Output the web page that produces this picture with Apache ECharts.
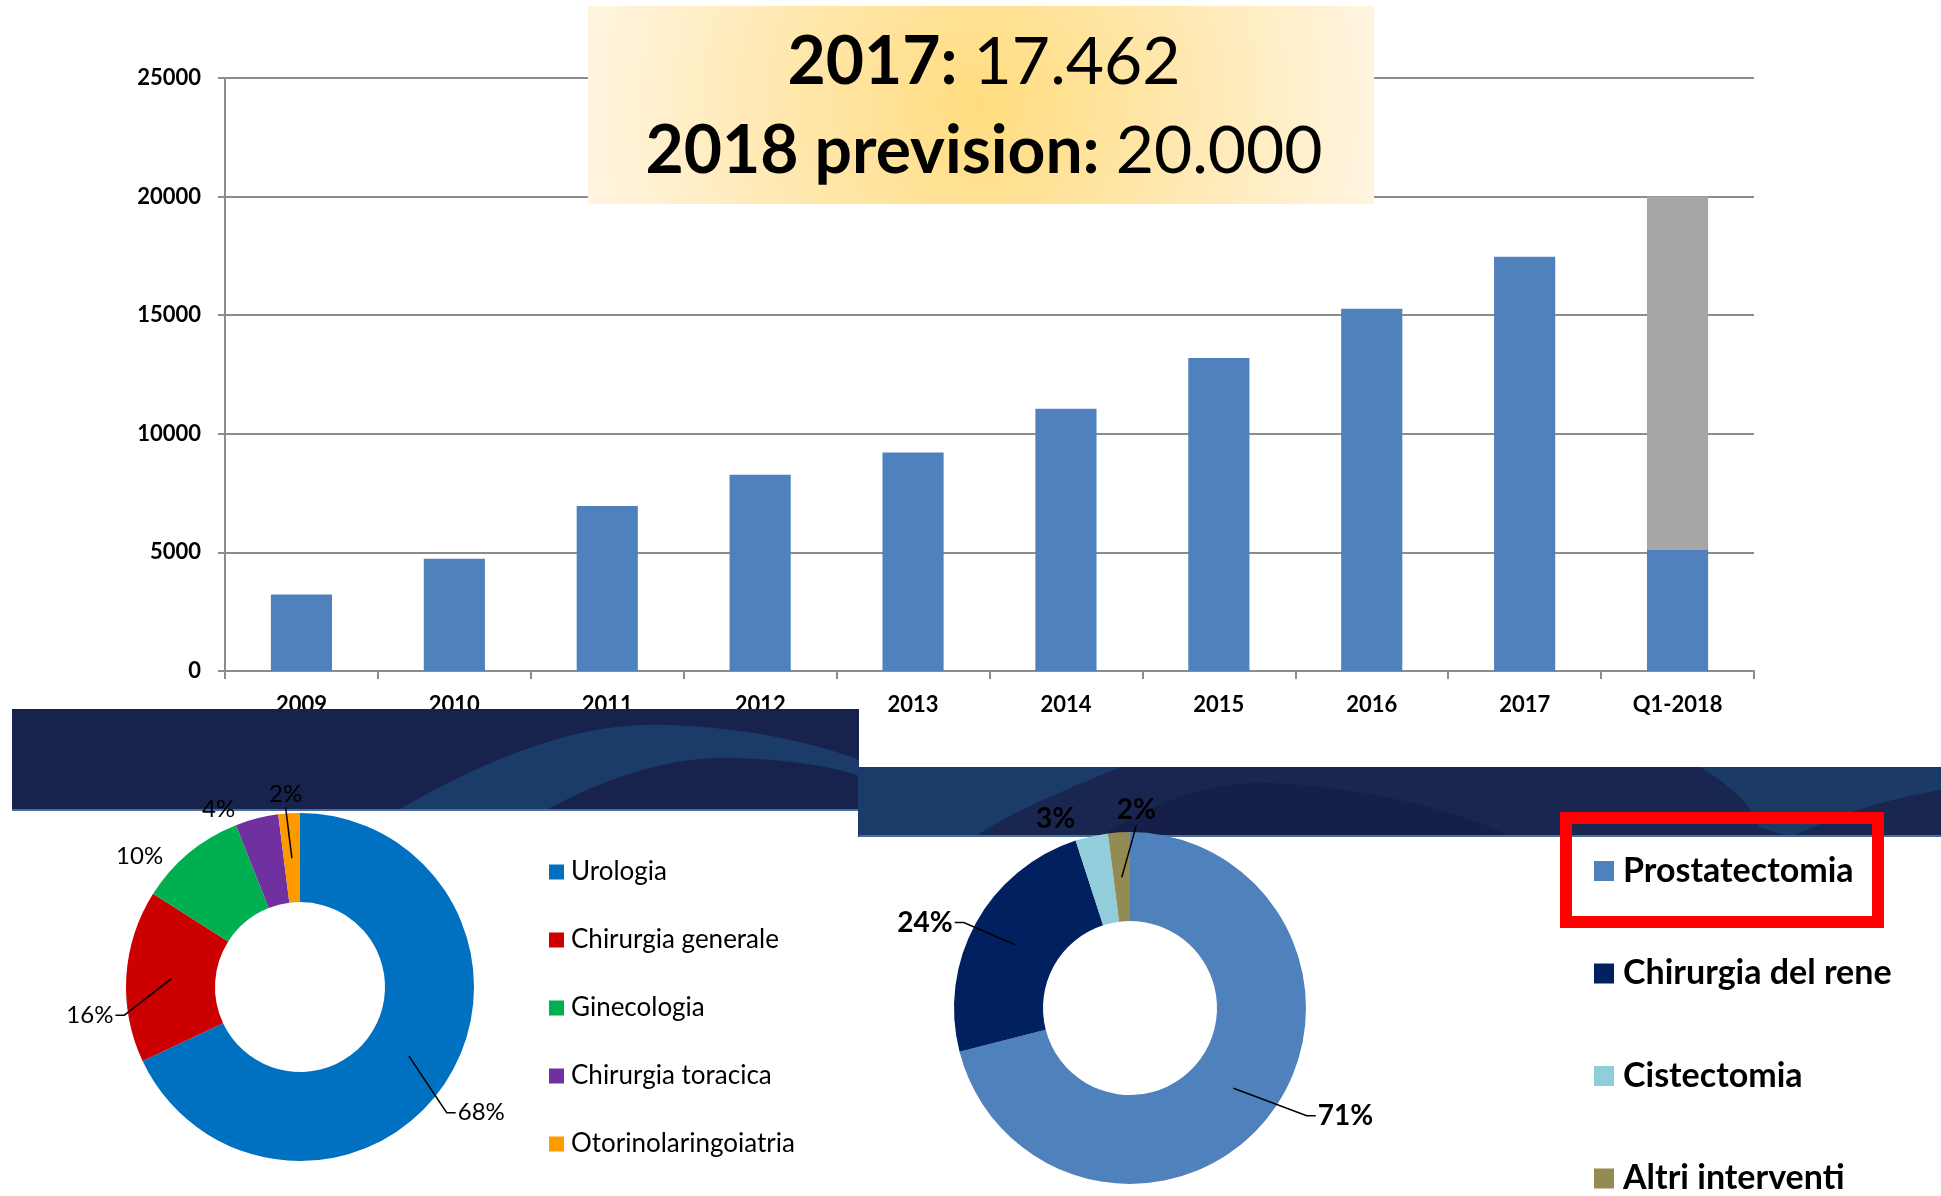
<!DOCTYPE html>
<html>
<head>
<meta charset="utf-8">
<title>Interventi robotici</title>
<script src="https://cdn.jsdelivr.net/npm/echarts@6/dist/echarts.min.js"></script>
<style>
  html, body { margin: 0; padding: 0; background: #ffffff; }
  #chart { width: 1941px; height: 1196px; }
</style>
</head>
<body>
<div id="chart"></div>
<script>
// Yearly procedures
const categories = ['2009', '2010', '2011', '2012', '2013', '2014', '2015', '2016', '2017', 'Q1-2018'];
const casesPerYear = [3220, 4730, 6960, 8270, 9215, 11055, 13200, 15270, 17462, 5100];
const forecastRemainder = [null, null, null, null, null, null, null, null, null, 14900];
const yTicks = { min: 0, max: 25000, interval: 5000 };

// Share by specialty
const specialtyNames = ['Urologia', 'Chirurgia generale', 'Ginecologia', 'Chirurgia toracica', 'Otorinolaringoiatria'];
const specialtyShares = [68, 16, 10, 4, 2];

// Share by urological procedure
const procedureNames = ['Prostatectomia', 'Chirurgia del rene', 'Cistectomia', 'Altri interventi'];
const procedureShares = [71, 24, 3, 2];

const specialtyColors = ['#0070C0', '#CC0000', '#00B050', '#7030A0', '#FF9900'];
const procedureColors = ['#4F81BD', '#002060', '#92CDDC', '#948A54'];
const FONT = 'Lato, "Open Sans", "Noto Sans", sans-serif';

// small shifts applied to the outside pie labels, [dx, dy] per slice
const specialtyLabelShift = [[-14, 25], [14, 40], [-4, 14], [-5, 4], [27, -5]];
const procedureLabelShift = [[21, -10], [6, 7], [2, -2], [53, -6]];
// slices whose label carries no leader line
const specialtyNoLeader = [false, false, true, true, false];
const procedureNoLeader = [false, false, true, false];

// Italian thousands separator: 17462 -> "17.462"
function itNumber(v) {
  return String(v).replace(/\B(?=(\d{3})+(?!\d))/g, '.');
}

const last = categories.length - 1;
const value2017 = casesPerYear[categories.indexOf('2017')];
const forecast2018 = casesPerYear[last] + forecastRemainder[last];

// points along a cubic bezier, used for the banner swooshes
function cubic(p0, p1, p2, p3, n) {
  const pts = [];
  for (let i = 0; i <= n; i++) {
    const t = i / n, u = 1 - t;
    pts.push([
      u * u * u * p0[0] + 3 * u * u * t * p1[0] + 3 * u * t * t * p2[0] + t * t * t * p3[0],
      u * u * u * p0[1] + 3 * u * u * t * p1[1] + 3 * u * t * t * p2[1] + t * t * t * p3[1]
    ]);
  }
  return pts;
}

const outerSwoosh = cubic([396, 811], [520, 740], [600, 722], [668, 725], 20)
  .concat(cubic([668, 725], [760, 728], [830, 748], [859, 760], 12));
const innerSwoosh = cubic([544, 811], [620, 770], [680, 757], [730, 758], 16)
  .concat(cubic([730, 758], [790, 759], [840, 768], [859, 776], 8));
const leftSwoosh = outerSwoosh.concat(innerSwoosh.slice().reverse());

const rightGlow = [[858, 767], [1121, 767]]
  .concat(cubic([1121, 767], [1065, 790], [1010, 812], [975, 837], 14))
  .concat([[858, 837]]);
const rightMound = cubic([1100, 837], [1170, 790], [1230, 782], [1267, 783], 14)
  .concat(cubic([1267, 783], [1340, 785], [1450, 805], [1511, 837], 14));
const rightFar = [[1700, 767], [1941, 767], [1941, 790]]
  .concat(cubic([1941, 790], [1880, 800], [1840, 815], [1790, 837], 10))
  .concat(cubic([1760, 837], [1760, 810], [1730, 785], [1700, 767], 8).slice(1));

// Shift each pie label a little and run its leader from inside the ring
// to the side of the label, with a short horizontal tail.
function leaderLayout(shifts) {
  return function (p) {
    const s = shifts[p.dataIndex] || [0, 0];
    const out = { dx: s[0], dy: s[1], hideOverlap: false };
    const pts = p.labelLinePoints;
    if (pts && pts.length >= 2) {
      const r = p.labelRect;
      const x = r.x + s[0], y = r.y + s[1], w = r.width, h = r.height;
      const vx = pts[1][0] - pts[0][0], vy = pts[1][1] - pts[0][1];
      const len = Math.hypot(vx, vy) || 1;
      const ux = vx / len, uy = vy / len;
      const start = [pts[0][0] - ux * 45, pts[0][1] - uy * 45];
      let mid, end;
      if (Math.abs(ux) < 0.3) {
        end = [x + w / 2, y + h + 1];
        mid = end;
      } else if (ux < 0) {
        end = [x + w + 2, y + h / 2];
        mid = [end[0] + 9, end[1]];
      } else {
        end = [x - 2, y + h / 2];
        mid = [end[0] - 9, end[1]];
      }
      out.labelLinePoints = [start, mid, end];
    }
    return out;
  };
}

// Slices of a donut.
function pieData(names, values, colors) {
  return names.map((n, i) => ({ name: n, value: values[i], itemStyle: { color: colors[i] } }));
}
// Same slices, left transparent: they only carry the labels and leader
// lines so that the leaders are painted over the coloured ring.
function labelData(names, values, noLeader) {
  return names.map((n, i) => {
    const item = { name: n, value: values[i] };
    if (noLeader[i]) item.labelLine = { lineStyle: { opacity: 0 } };
    return item;
  });
}

const leftPie = { center: [300, 987], radius: [85, 174] };
const rightPie = { center: [1130, 1008], radius: [87, 176] };

const chart = echarts.init(document.getElementById('chart'), null, { renderer: 'canvas' });

chart.setOption({
  backgroundColor: '#ffffff',
  animation: false,
  textStyle: { fontFamily: FONT },
  grid: { left: 225, right: 187, top: 78, bottom: 525, containLabel: false },
  xAxis: {
    type: 'category',
    data: categories,
    z: 0,
    axisLine: { lineStyle: { color: '#8C8C8C', width: 2 } },
    axisTick: { show: true, alignWithLabel: false, length: 8, lineStyle: { color: '#8C8C8C', width: 2 } },
    axisLabel: { color: '#000', fontFamily: FONT, fontWeight: 'bold', fontSize: 22, margin: 23 }
  },
  yAxis: {
    type: 'value',
    min: yTicks.min, max: yTicks.max, interval: yTicks.interval,
    z: 0,
    axisLine: { show: true, lineStyle: { color: '#8C8C8C', width: 2 } },
    axisTick: { show: true, length: 7, lineStyle: { color: '#8C8C8C', width: 2 } },
    splitLine: { show: true, lineStyle: { color: '#8C8C8C', width: 2 } },
    axisLabel: { color: '#000', fontFamily: FONT, fontWeight: 'bold', fontSize: 22, margin: 24,
      formatter: v => String(v) }
  },
  legend: [
    {
      orient: 'vertical', left: 549, top: 859, height: 330, padding: 0, selectedMode: false,
      icon: 'rect', itemWidth: 15, itemHeight: 15, itemGap: 42,
      data: specialtyNames,
      textStyle: { fontFamily: FONT, fontSize: 26, lineHeight: 26, color: '#000', padding: [0, 0, 0, 2] }
    },
    {
      orient: 'vertical', left: 1594, top: 854, height: 342, padding: 0, selectedMode: false,
      icon: 'rect', itemWidth: 20, itemHeight: 20, itemGap: 68.5,
      data: procedureNames,
      textStyle: { fontFamily: FONT, fontSize: 34, fontWeight: 'bold', lineHeight: 34, color: '#000', padding: [0, 0, 0, 4] }
    }
  ],
  series: [
    {
      name: 'Interventi', type: 'bar', stack: 'anno', barWidth: '40%',
      itemStyle: { color: '#4F81BD' },
      data: casesPerYear
    },
    {
      name: 'Previsione 2018', type: 'bar', stack: 'anno', barWidth: '40%',
      itemStyle: { color: '#A6A6A6' },
      data: forecastRemainder
    },
    {
      name: 'Per specialità', type: 'pie', z: 4,
      center: leftPie.center, radius: leftPie.radius,
      startAngle: 90, clockwise: true,
      data: pieData(specialtyNames, specialtyShares, specialtyColors),
      label: { show: false }, labelLine: { show: false },
      emphasis: { disabled: true }
    },
    {
      name: 'Per procedura', type: 'pie', z: 4,
      center: rightPie.center, radius: rightPie.radius,
      startAngle: 90, clockwise: true,
      data: pieData(procedureNames, procedureShares, procedureColors),
      label: { show: false }, labelLine: { show: false },
      emphasis: { disabled: true }
    },
    {
      name: 'Per specialità %', type: 'pie', z: 5, silent: true,
      center: leftPie.center, radius: leftPie.radius,
      startAngle: 90, clockwise: true, avoidLabelOverlap: false,
      itemStyle: { color: 'rgba(0,0,0,0)' },
      data: labelData(specialtyNames, specialtyShares, specialtyNoLeader),
      label: { show: true, position: 'outside', formatter: '{c}%', color: '#000',
        fontFamily: FONT, fontSize: 24 },
      labelLine: { show: true, length: 14, length2: 8, lineStyle: { color: '#000', width: 1.5 } },
      labelLayout: leaderLayout(specialtyLabelShift),
      emphasis: { disabled: true }
    },
    {
      name: 'Per procedura %', type: 'pie', z: 5, silent: true,
      center: rightPie.center, radius: rightPie.radius,
      startAngle: 90, clockwise: true, avoidLabelOverlap: false,
      itemStyle: { color: 'rgba(0,0,0,0)' },
      data: labelData(procedureNames, procedureShares, procedureNoLeader),
      label: { show: true, position: 'outside', formatter: '{c}%', color: '#000',
        fontFamily: FONT, fontSize: 28, fontWeight: 'bold' },
      labelLine: { show: true, length: 16, length2: 10, lineStyle: { color: '#000', width: 1.5 } },
      labelLayout: leaderLayout(procedureLabelShift),
      emphasis: { disabled: true }
    }
  ],
  graphic: [
    // header banners
    { type: 'rect', z: 1, shape: { x: 12, y: 709, width: 847, height: 102 }, style: { fill: '#17224D' } },
    { type: 'polygon', z: 1, shape: { points: leftSwoosh }, style: { fill: '#1B3B69' } },
    { type: 'line', z: 1, shape: { x1: 12, y1: 810, x2: 859, y2: 810 }, style: { stroke: '#4C6E9E', lineWidth: 2 } },
    { type: 'rect', z: 1, shape: { x: 859, y: 767, width: 1082, height: 70 }, style: { fill: '#182650' } },
    { type: 'polygon', z: 1, shape: { points: rightGlow }, style: { fill: '#1B3B69' } },
    { type: 'polygon', z: 1, shape: { points: rightMound }, style: { fill: '#151F47' } },
    { type: 'polygon', z: 1, shape: { points: rightFar }, style: { fill: '#1B3A66' } },
    { type: 'line', z: 1, shape: { x1: 859, y1: 836, x2: 1941, y2: 836 }, style: { stroke: '#4C6E9E', lineWidth: 2 } },
    // summary box
    {
      type: 'rect', z: 6, shape: { x: 588, y: 6, width: 786, height: 198 },
      style: { fill: { type: 'radial', x: 0.5, y: 0.5, r: 2, colorStops: [
        { offset: 0, color: '#FFDC7E' }, { offset: 1, color: '#FFF4DF' }] } }
    },
    {
      type: 'text', z: 7, x: 984, y: 107,
      style: {
        text: '{b|2017: }{r|' + itNumber(value2017) + '}\n{b|2018 prevision: }{r|' + itNumber(forecast2018) + '}',
        align: 'center', verticalAlign: 'middle',
        rich: {
          b: { fontFamily: FONT, fontSize: 66, fontWeight: 'bold', lineHeight: 89, fill: '#000' },
          r: { fontFamily: FONT, fontSize: 66, fontWeight: 'normal', lineHeight: 89, fill: '#000' }
        }
      }
    },
    // highlight around the first procedure
    { type: 'rect', z: 6, shape: { x: 1566, y: 818, width: 312, height: 104 },
      style: { fill: 'transparent', stroke: '#FF0000', lineWidth: 12 } }
  ]
});
</script>
</body>
</html>
